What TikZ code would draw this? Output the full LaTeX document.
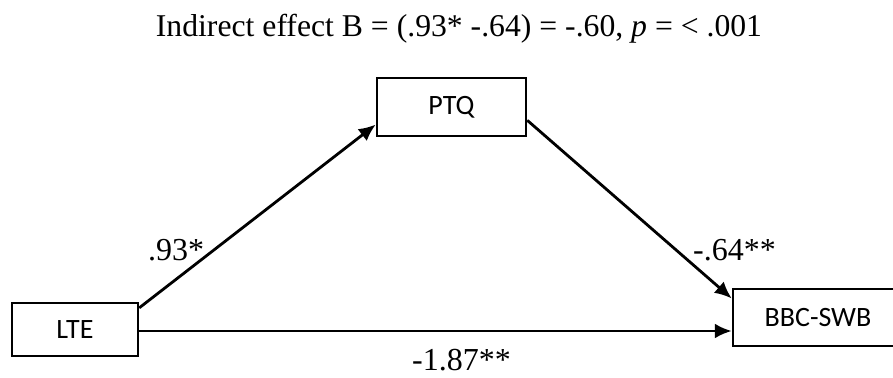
\documentclass[tikz,border=0pt]{standalone}
\usepackage{fontspec}
\setmainfont{Liberation Serif}
\newfontfamily\boxfont{Carlito}
\usetikzlibrary{arrows.meta,calc}
\begin{document}
\begin{tikzpicture}[x=1pt,y=-1pt,
  varbox/.style={draw=black,line width=2.5pt,rectangle,inner sep=0pt,
     font=\boxfont\fontsize{28}{33}\selectfont},
  pathline/.style={line width=2.8pt,-{Latex[length=17pt,width=15pt]}},
  coef/.style={inner sep=0pt,font=\fontsize{32}{38}\selectfont}]
\useasboundingbox (0,0) rectangle (893,377);
\clip (0,0) rectangle (893,377);
\node[coef,anchor=base,font=\fontsize{31.7}{38}\selectfont] (title) at (459,37)
  {Indirect effect B = (.93* -.64) = -.60, \textit{p} = < .001};
\node[varbox,minimum width=126pt,minimum height=53pt] (lte) at (75,329.5) {LTE};
\node[varbox,minimum width=149pt,minimum height=58pt] (ptq) at (451.5,107) {PTQ};
\node[varbox,minimum width=170pt,minimum height=57pt] (bbc) at (818,317.5) {BBC-SWB};
\coordinate (a1) at ($(lte.north east)!0.11!(lte.south east)$);
\coordinate (a2) at ($(ptq.north west)!0.79!(ptq.south west)$);
\coordinate (b1) at ($(ptq.north east)!0.72!(ptq.south east)$);
\coordinate (b2) at ($(bbc.north west)!0.18!(bbc.south west)$);
\coordinate (c1) at (lte.east |- 0,331);
\coordinate (c2) at (bbc.west |- 0,331);
\draw[pathline] (a1) -- (a2);
\draw[pathline] (b1) -- (b2);
\draw[pathline] (c1) -- (c2);
\node[coef,anchor=base west] (la) at (148,260) {.93*};
\node[coef,anchor=base west] (lb) at (693,260) {-.64**};
\node[coef,anchor=base west] (lc) at (412,370) {-1.87**};
\end{tikzpicture}
\end{document}
